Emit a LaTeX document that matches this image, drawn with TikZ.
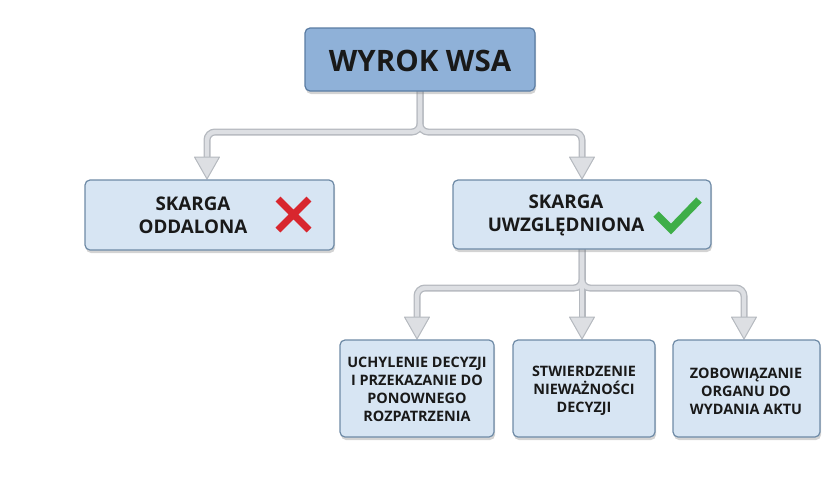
\documentclass[tikz,border=0pt]{standalone}
\usepackage{fontspec}
\setmainfont{Open Sans}
\usetikzlibrary{shadows,calc}
\definecolor{topfill}{HTML}{8FB1D8}
\definecolor{topdraw}{HTML}{5A7CA3}
\definecolor{boxfill}{HTML}{D7E5F3}
\definecolor{boxdraw}{HTML}{6E8AA6}
\definecolor{pipeout}{HTML}{B5B9BF}
\definecolor{pipein}{HTML}{DDDFE3}
\definecolor{xred}{HTML}{D8262E}
\definecolor{vgreen}{HTML}{3EAE48}
\tikzset{
  boxbase/.style={rounded corners=5pt, line width=1.2pt, anchor=center,
    drop shadow={opacity=0.35, shadow xshift=1pt, shadow yshift=-3pt}},
  topbox/.style={boxbase, fill=topfill, draw=topdraw},
  midbox/.style={boxbase, fill=boxfill, draw=boxdraw},
  pipeo/.style={line width=7pt, draw=pipeout, rounded corners=8pt},
  pipei/.style={line width=4.4pt, draw=pipein, rounded corners=8pt},
  txt/.style={align=center, inner sep=0pt, text=black!90},
}
\newcommand{\arrowhead}[1]{%
  \fill[pipein, draw=pipeout, line width=1pt, line join=round]
    ($(#1)+(-12.5,-22)$) -- ($(#1)+(12.5,-22)$) -- (#1) -- cycle;}
\begin{document}
\begin{tikzpicture}[x=1pt,y=-1pt]
\useasboundingbox (0,0) rectangle (840,480);
% coordinates
\coordinate (j1top) at (420,91);
\coordinate (j1) at (420,132);
\coordinate (a1) at (207,179);
\coordinate (a2) at (582,179);
\coordinate (j2top) at (582,249);
\coordinate (j2) at (582,288);
\coordinate (b1) at (417,339);
\coordinate (b2) at (582,339);
\coordinate (b3) at (744,339);
% pipes
\foreach \s in {pipeo,pipei}{
  \draw[\s] (j1top) -- (j1) -| ($(a1)+(0,-18)$);
  \draw[\s] (j1top) -- (j1) -| ($(a2)+(0,-18)$);
  \draw[\s] (j2top) -- (j2) -| ($(b1)+(0,-18)$);
  \draw[\s] (j2top) -- (j2) -| ($(b3)+(0,-18)$);
  \draw[\s] (j2top) -- ($(b2)+(0,-18)$);
}
\arrowhead{a1}\arrowhead{a2}\arrowhead{b1}\arrowhead{b2}\arrowhead{b3}
% boxes
\path[topbox] (305,28) rectangle (535,91);
\node[txt, font=\fontsize{29.5}{29.5}\selectfont\bfseries] (top) at (420,61) {WYROK WSA};
\path[midbox] (85,180) rectangle (334,250);
\node[txt, font=\fontsize{18.8}{23}\selectfont\bfseries] (odd) at (193,215) {SKARGA\\ODDALONA};
\path[midbox] (453,180) rectangle (711,249);
\node[txt, font=\fontsize{18.8}{23}\selectfont\bfseries] (uwz) at (566,215) {SKARGA\\UWZGLĘDNIONA};
\path[midbox] (340,340) rectangle (494,437);
\node[txt, font=\fontsize{14.4}{18}\selectfont\bfseries] (c1) at (417,389) {UCHYLENIE DECYZJI\\I PRZEKAZANIE DO\\PONOWNEGO\\ROZPATRZENIA};
\path[midbox] (513,340) rectangle (655,437);
\node[txt, font=\fontsize{14.4}{18}\selectfont\bfseries] (c2) at (584,391) {STWIERDZENIE\\NIEWAŻNOŚCI\\DECYZJI};
\path[midbox] (673,340) rectangle (820,437);
\node[txt, font=\fontsize{14.4}{18}\selectfont\bfseries] (c3) at (746,391) {ZOBOWIĄZANIE\\ORGANU DO\\WYDANIA AKTU};
% icons
\draw[xred, line width=7pt] (278,199) -- (309,230) (309,199) -- (278,230);
\draw[vgreen, line width=7.5pt, line join=miter] (656,214) -- (671,229) -- (699,200);
\end{tikzpicture}
\end{document}
